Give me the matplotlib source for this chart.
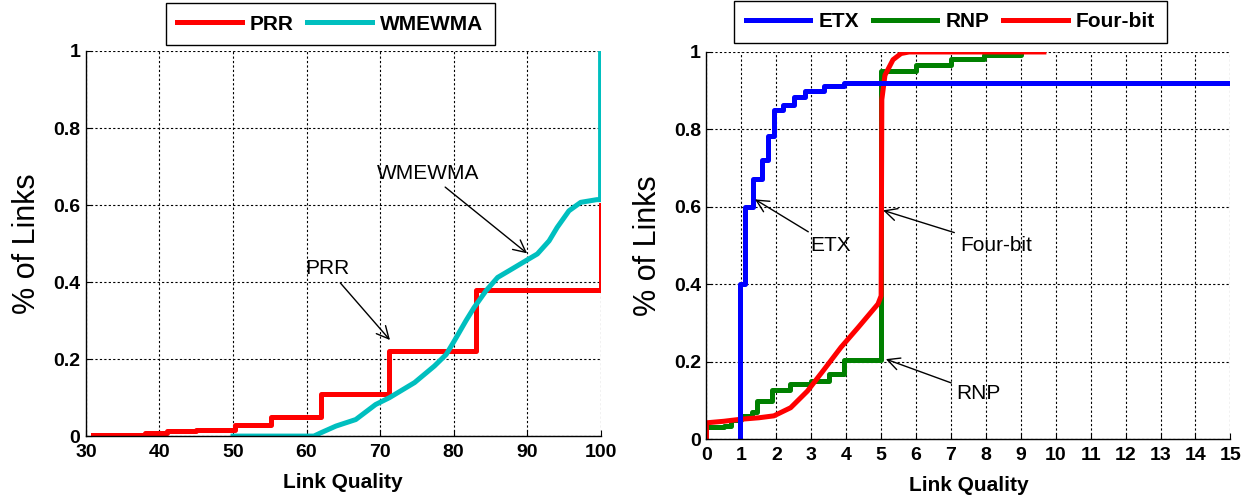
import numpy as np
import matplotlib
matplotlib.use("Agg")
import matplotlib.pyplot as plt

plt.rcParams['font.family'] = ['Liberation Sans', 'DejaVu Sans']

# left panel: PRR vs WMEWMA
prr_x = [31, 38, 41, 45, 50.3, 55.2, 62, 71.2, 83, 100, 100]
prr_y = [0.003, 0.007, 0.012, 0.016, 0.028, 0.05, 0.11, 0.22, 0.38, 0.38, 0.6]

wm_x = [50, 61, 62, 64, 66.7, 69.4, 71.3, 74.7, 77.4, 79, 80.1, 81.7, 82.8,
        84.4, 86, 87.6, 89.8, 91.4, 93, 94.1, 95.7, 97.3, 99.5, 100, 100]
wm_y = [0, 0, 0.009, 0.026, 0.043, 0.082, 0.1, 0.139, 0.182, 0.212, 0.247, 0.3, 0.334,
        0.377, 0.412, 0.43, 0.455, 0.473, 0.507, 0.542, 0.585, 0.607, 0.614, 0.614, 1.0]

# right panel: ETX, RNP, Four-bit
etx_x = [0.95, 0.95, 1.1, 1.34, 1.58, 1.77, 1.92, 2.2, 2.5, 2.83, 3.36, 3.94, 15]
etx_y = [0, 0.4, 0.6, 0.673, 0.72, 0.782, 0.85, 0.862, 0.883, 0.9, 0.912, 0.92, 0.92]

rnp_x = [0, 0.5, 0.7, 1.0, 1.3, 1.45, 1.88, 2.4, 3.0, 3.52, 3.95, 5.0, 5.0, 6.0, 7.0, 7.95, 9.0]
rnp_y = [0.03, 0.035, 0.05, 0.06, 0.07, 0.098, 0.126, 0.143, 0.15, 0.169, 0.204, 0.204,
         0.95, 0.967, 0.982, 0.993, 0.997]

fb_x = [0, 0, 0.5, 0.96, 1.5, 1.93, 2.41, 2.89, 3.37, 3.85, 4.34, 4.91, 5.0, 5.02,
        5.11, 5.34, 5.57, 5.8, 9.66]
fb_y = [0, 0.042, 0.046, 0.051, 0.055, 0.06, 0.081, 0.124, 0.18, 0.237, 0.288, 0.349,
        0.37, 0.877, 0.94, 0.98, 0.996, 1.0, 1.0]

yticks = [0, 0.2, 0.4, 0.6, 0.8, 1]
ytick_labels = ['0', '0.2', '0.4', '0.6', '0.8', '1']

fig = plt.figure(figsize=(12.46, 4.95), dpi=100)
ax1 = fig.add_axes([0.069, 0.119, 0.413, 0.778])
ax2 = fig.add_axes([0.567, 0.113, 0.4205, 0.782])

lw = 3.6

def style(ax, xlim, xticks):
    ax.set_xlim(*xlim)
    ax.set_ylim(0, 1)
    ax.set_xticks(xticks)
    ax.set_yticks(yticks)
    ax.set_yticklabels(ytick_labels)
    ax.grid(True, color='black', linestyle=(0, (2, 2)), linewidth=0.8)
    for s in ['top', 'right']:
        ax.spines[s].set_visible(False)
    for s in ['left', 'bottom']:
        ax.spines[s].set_linewidth(1.0)
    ax.tick_params(direction='in', length=4, width=0.8, labelsize=14)
    ax.tick_params(axis='x', pad=6)
    ax.tick_params(axis='y', pad=4)
    for lab in ax.get_xticklabels() + ax.get_yticklabels():
        lab.set_fontweight('bold')
    ax.set_xlabel('Link Quality', fontsize=15, fontweight='bold', labelpad=8)
    ax.set_ylabel('% of Links', fontsize=22, labelpad=8)

leg_kw = dict(loc='center', frameon=True, fancybox=False, edgecolor='black',
              framealpha=1, prop={'weight': 'bold', 'size': 15}, handlelength=3.1,
              handletextpad=0.4, columnspacing=0.65, borderpad=0.55)

# left
l1, = ax1.plot(prr_x, prr_y, drawstyle='steps-post', color='#ff0000', lw=lw, label='PRR')
l2, = ax1.plot(wm_x, wm_y, color='#00bfbf', lw=lw, label='WMEWMA')
style(ax1, (30, 100), np.arange(30, 101, 10))
leg1 = ax1.legend(handles=[l1, l2], bbox_to_anchor=(0.475, 1.07), ncol=2, **leg_kw)
leg1.get_frame().set_linewidth(1.0)
arw = dict(arrowstyle='->', color='black', lw=1.0, mutation_scale=22)
ax1.annotate('WMEWMA', xy=(90.3, 0.47), xytext=(76.5, 0.683), fontsize=15,
             ha='center', va='center', arrowprops=arw)
ax1.annotate('PRR', xy=(71.6, 0.244), xytext=(62.9, 0.435), fontsize=15,
             ha='center', va='center', arrowprops=arw)

# right
g, = ax2.plot(rnp_x, rnp_y, drawstyle='steps-post', color='#008000', lw=lw, label='RNP')
r, = ax2.plot(fb_x, fb_y, color='#ff0000', lw=lw, label='Four-bit')
b, = ax2.plot(etx_x, etx_y, drawstyle='steps-post', color='#0000ff', lw=lw, label='ETX')
style(ax2, (0, 15), np.arange(0, 16, 1))
leg2 = ax2.legend(handles=[b, g, r], bbox_to_anchor=(0.466, 1.078), ncol=3, **leg_kw)
leg2.get_frame().set_linewidth(1.0)
ax2.annotate('ETX', xy=(1.32, 0.623), xytext=(3.56, 0.5), fontsize=15,
             ha='center', va='center', arrowprops=arw)
ax2.annotate('Four-bit', xy=(4.98, 0.593), xytext=(8.28, 0.5), fontsize=15,
             ha='center', va='center', arrowprops=arw)
ax2.annotate('RNP', xy=(5.06, 0.209), xytext=(7.8, 0.119), fontsize=15,
             ha='center', va='center', arrowprops=arw)

fig.savefig('out.png', dpi=100)
